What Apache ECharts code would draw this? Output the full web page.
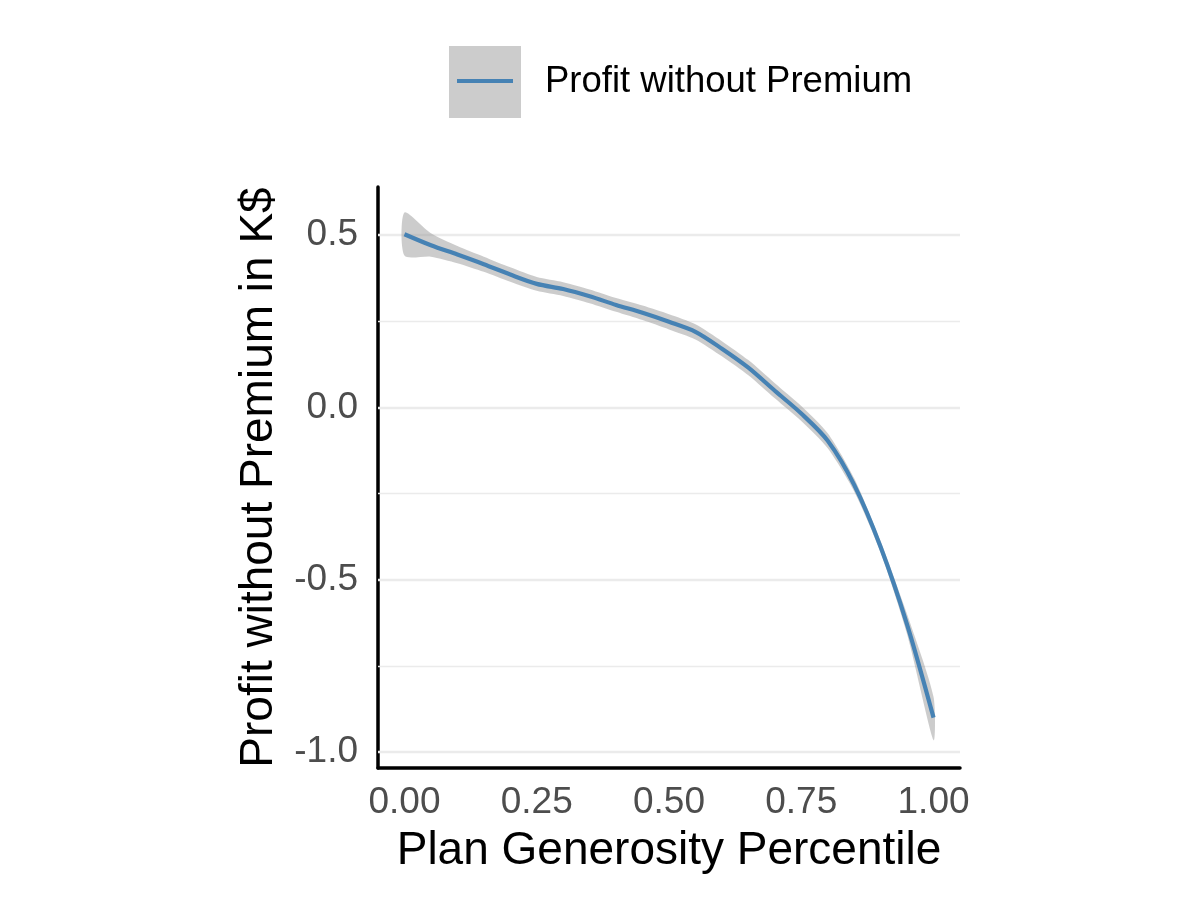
<!DOCTYPE html>
<html>
<head>
<meta charset="utf-8">
<script src="https://cdn.jsdelivr.net/npm/echarts@6/dist/echarts.min.js"></script>
<style>html,body{margin:0;padding:0;background:#fff}#c{width:1200px;height:900px}</style>
</head>
<body>
<div id="c"></div>
<script>
// Data
const xs      = [0.00, 0.05, 0.10, 0.15, 0.20, 0.25, 0.30, 0.35, 0.40, 0.45, 0.50, 0.55, 0.60, 0.65, 0.70, 0.75, 0.80, 0.85, 0.90, 0.95, 1.00];
const profit  = [0.502, 0.470, 0.443, 0.415, 0.385, 0.358, 0.343, 0.322, 0.297, 0.274, 0.248, 0.219, 0.170, 0.115, 0.048, -0.018, -0.097, -0.225, -0.405, -0.630, -0.900];
const lowerCI = [0.440, 0.437, 0.418, 0.393, 0.364, 0.338, 0.323, 0.302, 0.277, 0.253, 0.226, 0.197, 0.148, 0.093, 0.026, -0.040, -0.119, -0.244, -0.421, -0.658, -0.965];
const upperCI = [0.565, 0.505, 0.468, 0.437, 0.406, 0.378, 0.363, 0.342, 0.317, 0.295, 0.270, 0.241, 0.192, 0.137, 0.070, 0.004, -0.075, -0.206, -0.389, -0.600, -0.840];
const xTicks  = [0, 0.25, 0.5, 0.75, 1];
const yTicks  = [-1, -0.5, 0, 0.5];
const yMinor  = [-0.75, -0.25, 0.25];
const seriesName = 'Profit without Premium';

const FONT = '"Liberation Sans", Arial, Helvetica, sans-serif';
const chart = echarts.init(document.getElementById('c'), null, {renderer: 'canvas'});

const lineData = xs.map((x, i) => [x, profit[i]]);
const bandData = xs.map((x, i) => [x, lowerCI[i], upperCI[i]]);

const gridLines = yTicks.map(v => ({yAxis: v, lineStyle: {width: 2.4}}))
  .concat(yMinor.map(v => ({yAxis: v, lineStyle: {width: 1.3}})));

function renderBand(params, api) {
  if (params.dataIndex !== 0) return null;
  const upper = [], lower = [];
  for (let i = 0; i < bandData.length; i++) {
    upper.push(api.coord([bandData[i][0], bandData[i][2]]));
    lower.push(api.coord([bandData[i][0], bandData[i][1]]));
  }
  const pts = upper.concat(lower.reverse());
  return {
    type: 'polygon',
    shape: {points: pts, smooth: 0.25},
    style: {fill: 'rgba(153,153,153,0.5)'},
    silent: true
  };
}

chart.setOption({
  animation: false,
  backgroundColor: '#ffffff',
  textStyle: {fontFamily: FONT},
  grid: {left: 378, right: 240, top: 187, bottom: 132, containLabel: false},
  xAxis: {
    type: 'value', min: -0.05, max: 1.05,
    name: 'Plan Generosity Percentile', nameLocation: 'middle', nameGap: 60,
    nameTextStyle: {fontSize: 46, color: '#000', fontFamily: FONT},
    axisLine: {show: true, onZero: false, lineStyle: {color: '#000', width: 3.5}},
    axisTick: {show: false, customValues: xTicks},
    splitLine: {show: false},
    axisLabel: {customValues: xTicks, fontSize: 37, color: '#4d4d4d', margin: 16, fontFamily: FONT,
                formatter: v => Number(v).toFixed(2)}
  },
  yAxis: {
    type: 'value', min: -1.046, max: 0.639,
    name: 'Profit without Premium in K$', nameLocation: 'middle', nameGap: 96, nameRotate: 90,
    nameTextStyle: {fontSize: 46, color: '#000', fontFamily: FONT},
    axisLine: {show: true, onZero: false, lineStyle: {color: '#000', width: 3.5}},
    axisTick: {show: false, customValues: yTicks},
    splitLine: {show: false},
    axisLabel: {customValues: yTicks, fontSize: 37, color: '#4d4d4d', margin: 20, fontFamily: FONT,
                formatter: v => Number(v).toFixed(1)}
  },
  series: [
    {
      name: 'grid', type: 'line', data: lineData, symbol: 'none', lineStyle: {opacity: 0}, silent: true, z: 1,
      markLine: {silent: true, symbol: ['none', 'none'], label: {show: false}, z: 1,
                 lineStyle: {color: '#ebebeb', type: 'solid'}, data: gridLines}
    },
    {
      name: 'band', type: 'custom', data: bandData, renderItem: renderBand, z: 2, silent: true,
      encode: {x: 0, y: [1, 2]}
    },
    {
      name: seriesName, type: 'line', data: lineData, symbol: 'none', smooth: 0.3, z: 3,
      lineStyle: {color: '#4682b4', width: 4.2}
    }
  ],
  graphic: [
    {type: 'rect', left: 449, top: 46, shape: {width: 72, height: 72}, style: {fill: '#cccccc'}},
    {type: 'line', shape: {x1: 457, y1: 81, x2: 513, y2: 81}, style: {stroke: '#4682b4', lineWidth: 4}},
    {type: 'text', left: 545, top: 63, style: {text: seriesName, fontSize: 36.5, fill: '#000', fontFamily: FONT}}
  ]
});
</script>
</body>
</html>
